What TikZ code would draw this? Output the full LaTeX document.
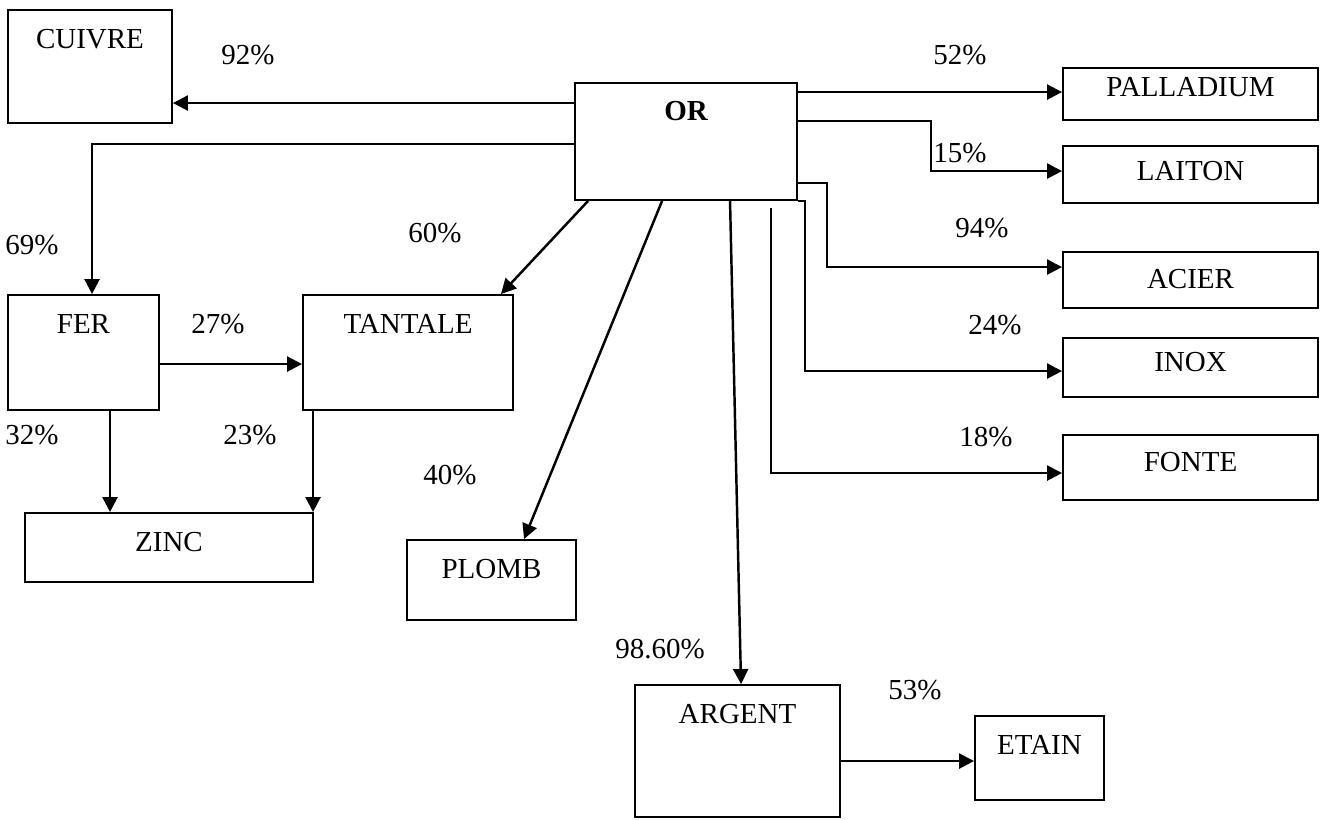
\documentclass[tikz,border=0pt]{standalone}
\usepackage{fontspec}
\setmainfont{Liberation Serif}
\usetikzlibrary{arrows.meta,calc,fit}

\tikzset{
  box/.style={draw, line width=1.1pt, inner sep=0pt},
  txt/.style={anchor=center, yshift=-#1},
  txt/.default=0.6cm,
  flow/.style={line width=1.4pt, -{Triangle[length=0.3cm,width=0.3cm]}}
}

\begin{document}
\begin{tikzpicture}[x=0.02cm,y=-0.02cm,font=\fontsize{16.5}{19}\selectfont]
\useasboundingbox (0,0) rectangle (1327,819);

% boxes
\node[box, fit={(575,83)(797,200)}, label={[txt=0.58cm,font=\fontsize{16.5}{19}\selectfont\bfseries]north:OR}] (or) {};
\node[box, fit={(8,10)(172,123)}, label={[txt]north:CUIVRE}] (cuivre) {};
\node[box, fit={(8,295)(159,410)}, label={[txt]north:FER}] (fer) {};
\node[box, fit={(303,295)(513,410)}, label={[txt]north:TANTALE}] (tantale) {};
\node[box, fit={(25,513)(313,582)}, label={[txt]north:ZINC}] (zinc) {};
\node[box, fit={(407,540)(576,620)}, label={[txt]north:PLOMB}] (plomb) {};
\node[box, fit={(635,685)(840,817)}, label={[txt]north:ARGENT}] (argent) {};
\node[box, fit={(975,716)(1104,800)}, label={[txt]north:ETAIN}] (etain) {};
\node[box, fit={(1063,68)(1318,120)}, label={[txt=0.4cm]north:PALLADIUM}] (palladium) {};
\node[box, fit={(1063,146)(1318,203)}, label={[txt=0.52cm]north:LAITON}] (laiton) {};
\node[box, fit={(1063,252)(1318,308)}, label={[txt=0.56cm]north:ACIER}] (acier) {};
\node[box, fit={(1063,338)(1318,397)}, label={[txt=0.5cm]north:INOX}] (inox) {};
\node[box, fit={(1063,435)(1318,500)}, label={[txt=0.56cm]north:FONTE}] (fonte) {};

% percentages
\node (p92) at (248,55) {92\%};
\node (p69) at (32,245) {69\%};
\node (p60) at (435,233) {60\%};
\node (p27) at (218,324) {27\%};
\node (p32) at (32,435) {32\%};
\node (p23) at (250,435) {23\%};
\node (p40) at (450,475) {40\%};
\node (p986) at (660,649) {98.60\%};
\node (p53) at (915,690) {53\%};
\node (p52) at (960,55) {52\%};
\node (p15) at (960,153) {15\%};
\node (p94) at (982,228) {94\%};
\node (p24) at (995,325) {24\%};
\node (p18) at (986,437) {18\%};

% flows out of OR
\draw[flow] ($(or.north west)+(0,21)$) coordinate (c1) -- (c1 -| cuivre.east);
\draw[flow] ($(or.north west)+(0,62)$) -| ($(fer.north west)+(85,0)$);
\draw[flow] ($(or.south west)+(14,0)$) -- ($(tantale.north east)+(-13,0)$);
\draw[flow] ($(or.south west)+(88,0)$) -- ($(plomb.north west)+(118,0)$);
\draw[flow] ($(or.south west)+(156,0)$) -- ($(argent.north west)+(107,0)$);
\draw[flow] ($(or.north east)+(0,10)$) coordinate (c2) -- (c2 -| palladium.west);
\draw[flow] ($(or.north east)+(0,39)$) -- ++(133,0) |- ($(laiton.north west)+(0,26)$);
\draw[flow] ($(or.north east)+(0,101)$) -- ++(29,0) |- ($(acier.north west)+(0,16)$);
\draw[flow] (or.south east) -- ++(7,0) |- ($(inox.north west)+(0,34)$);
\draw[flow] ($(or.south east)+(-27,7)$) |- ($(fonte.north west)+(0,39)$);

% other flows
\draw[flow] ($(fer.north east)+(0,70)$) coordinate (c3) -- (c3 -| tantale.west);
\draw[flow] ($(fer.south west)+(103,0)$) coordinate (c4) -- (c4 |- zinc.north);
\draw[flow] ($(tantale.south west)+(11,0)$) coordinate (c5) -- (c5 |- zinc.north);
\draw[flow] ($(argent.north east)+(0,77)$) coordinate (c6) -- (c6 -| etain.west);

\end{tikzpicture}
\end{document}
